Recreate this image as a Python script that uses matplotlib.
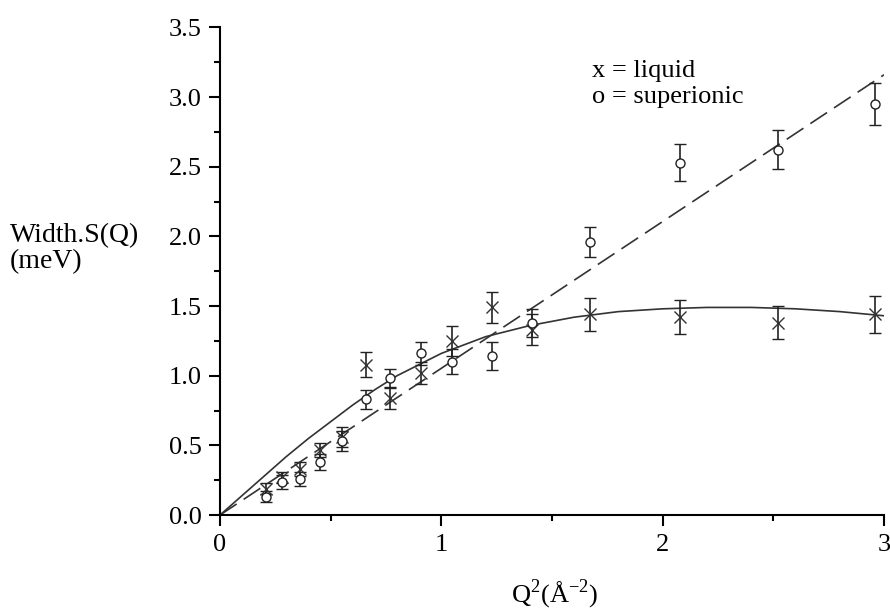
import numpy as np
import matplotlib
matplotlib.use('Agg')
import matplotlib.pyplot as plt

# data
q2 = [0.21, 0.28, 0.36, 0.45, 0.55, 0.66, 0.77, 0.91, 1.05, 1.23, 1.41, 1.67, 2.08, 2.52, 2.96]
w_liquid = [0.19, 0.27, 0.33, 0.47, 0.56, 1.08, 0.84, 1.02, 1.25, 1.49, 1.33, 1.44, 1.42, 1.38, 1.44]
err_liquid = [0.04, 0.04, 0.05, 0.05, 0.07, 0.09, 0.08, 0.08, 0.11, 0.11, 0.11, 0.12, 0.12, 0.12, 0.13]
w_super = [0.13, 0.24, 0.26, 0.38, 0.53, 0.83, 0.98, 1.16, 1.10, 1.14, 1.38, 1.96, 2.53, 2.62, 2.95]
err_super = [0.04, 0.05, 0.05, 0.06, 0.07, 0.07, 0.07, 0.08, 0.09, 0.10, 0.10, 0.11, 0.13, 0.14, 0.15]

# fitted curves
fit_liq_x = [0, 0.1, 0.2, 0.3, 0.4, 0.5, 0.6, 0.7, 0.8, 0.9, 1.0, 1.2, 1.4, 1.6, 1.8, 2.0, 2.2, 2.4, 2.6, 2.8, 3.0]
fit_liq_y = [0, 0.14, 0.28, 0.42, 0.55, 0.67, 0.79, 0.90, 1.00, 1.08, 1.16, 1.28, 1.36, 1.42, 1.46, 1.48, 1.49, 1.49, 1.48, 1.46, 1.43]
fit_sup_x = [0, 3.0]
fit_sup_y = [0, 3.16]

plt.rcParams['font.family'] = ['Liberation Serif', 'DejaVu Serif']
plt.rcParams['mathtext.fontset'] = 'custom'
plt.rcParams['mathtext.rm'] = 'Liberation Serif'
plt.rcParams['font.size'] = 19

fig = plt.figure(figsize=(8.9, 6.14), dpi=100)
ax = fig.add_axes([0.2472, 0.1612, 0.7461, 0.7942])

ax.plot(fit_liq_x, fit_liq_y, color='#333333', lw=1.2)
ax.plot(fit_sup_x, fit_sup_y, color='#333333', lw=1.2, dashes=(12, 5))

ax.errorbar(q2, w_liquid, yerr=err_liquid, fmt='x', color='#333333', ms=9, mew=1.0,
            ecolor='#222222', elinewidth=1.2, capsize=4, capthick=1.2)
ax.errorbar(q2, w_super, yerr=err_super, fmt='o', mfc='white', mec='#222222', ms=6.5, mew=1.0,
            ecolor='#222222', elinewidth=1.2, capsize=4, capthick=1.2)

ax.set_xlim(0, 3)
ax.set_ylim(0, 3.5)
ax.set_xticks([0, 1, 2, 3])
ax.set_xticks([0.5, 1.5, 2.5], minor=True)
ax.set_yticks(np.arange(0, 3.51, 0.5))
ax.set_yticks(np.arange(0.25, 3.5, 0.5), minor=True)
ax.set_yticklabels(['%.1f' % v for v in np.arange(0, 3.51, 0.5)])
for s in ['top', 'right']:
    ax.spines[s].set_visible(False)
for s in ['left', 'bottom']:
    ax.spines[s].set_linewidth(1.5)
ax.tick_params(which='major', direction='out', length=8, width=1.5)
ax.tick_params(which='minor', direction='out', length=4, width=1.5)
ax.tick_params(axis='y', pad=5)
ax.tick_params(axis='x', pad=6)

ax.text(1.68, 3.19, 'x = liquid', va='center', ha='left')
ax.text(1.68, 3.0, 'o = superionic', va='center', ha='left')

fig.text(10 / 890, 1 - 236 / 614, 'Width.S(Q)', va='center', ha='left', fontsize=20)
fig.text(10 / 890, 1 - 262 / 614, '(meV)', va='center', ha='left', fontsize=20)
fig.text(555 / 890, 1 - 594 / 614, r'Q$^{2}$(Å$^{-2}$)', va='center', ha='center')

fig.savefig('out.png', dpi=100)
